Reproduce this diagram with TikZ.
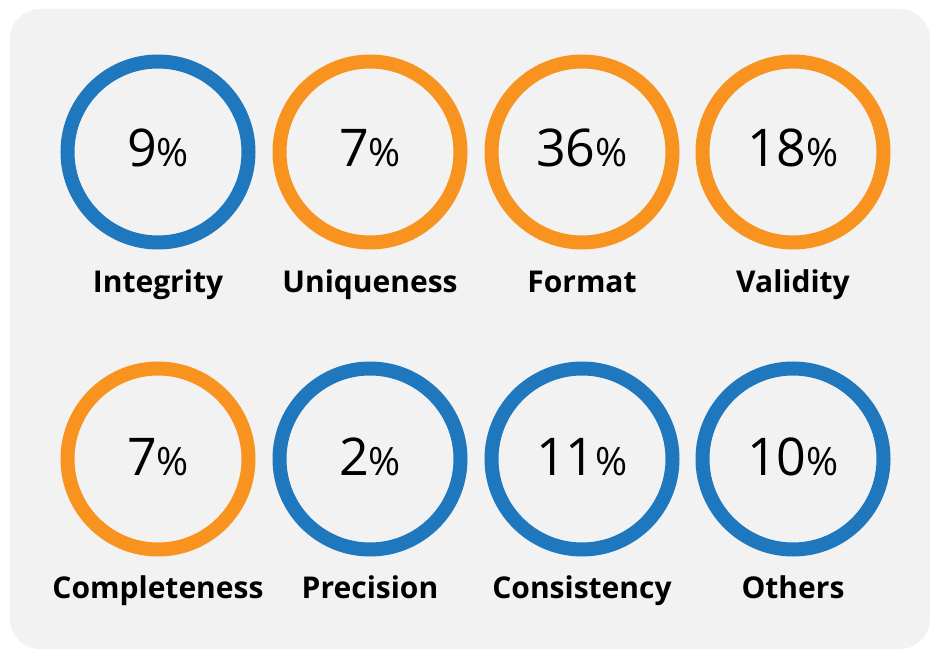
\documentclass[tikz,border=0pt]{standalone}
\usepackage{fontspec}
\setmainfont{Open Sans}
\definecolor{bgc}{HTML}{F2F2F2}
\definecolor{blu}{HTML}{1F77BE}
\definecolor{org}{HTML}{F7931E}
\tikzset{
  ring/.style={circle, draw=#1, line width=14pt, minimum size=181pt, inner sep=0pt},
  lbl/.style={font=\fontsize{30}{31}\selectfont\bfseries, anchor=base, inner sep=0pt},
  pct/.style={font=\fontsize{52}{54}\selectfont, anchor=base, inner sep=0pt}
}
\newcommand{\pc}[1]{#1{\fontsize{39}{40}\selectfont\%}}
\begin{document}
\begin{tikzpicture}[x=1pt,y=-1pt]
\useasboundingbox (0,0) rectangle (934,652);
\node[fill=bgc, rounded corners=30pt, minimum width=920pt, minimum height=640pt, inner sep=0pt] (bg) at (470,329) {};
% row 1
\node[ring=blu] (c1) at (158,152) {};
\node[ring=org] (c2) at (370,152) {};
\node[ring=org] (c3) at (582,152) {};
\node[ring=org] (c4) at (793,152) {};
\node[pct] (p1) at (158,167) {\pc{9}};
\node[pct] (p2) at (370,167) {\pc{7}};
\node[pct] (p3) at (582,167) {\pc{36}};
\node[pct] (p4) at (793,167) {\pc{18}};
\node[lbl] (l1) at (158,292) {Integrity};
\node[lbl] (l2) at (370,292) {Uniqueness};
\node[lbl] (l3) at (582,292) {Format};
\node[lbl] (l4) at (793,292) {Validity};
% row 2
\node[ring=org] (c5) at (158,459) {};
\node[ring=blu] (c6) at (370,459) {};
\node[ring=blu] (c7) at (582,459) {};
\node[ring=blu] (c8) at (793,459) {};
\node[pct] (p5) at (158,475) {\pc{7}};
\node[pct] (p6) at (370,475) {\pc{2}};
\node[pct] (p7) at (582,475) {\pc{11}};
\node[pct] (p8) at (793,475) {\pc{10}};
\node[lbl] (l5) at (158,598) {Completeness};
\node[lbl] (l6) at (370,598) {Precision};
\node[lbl] (l7) at (582,598) {Consistency};
\node[lbl] (l8) at (793,598) {Others};
\end{tikzpicture}
\end{document}
